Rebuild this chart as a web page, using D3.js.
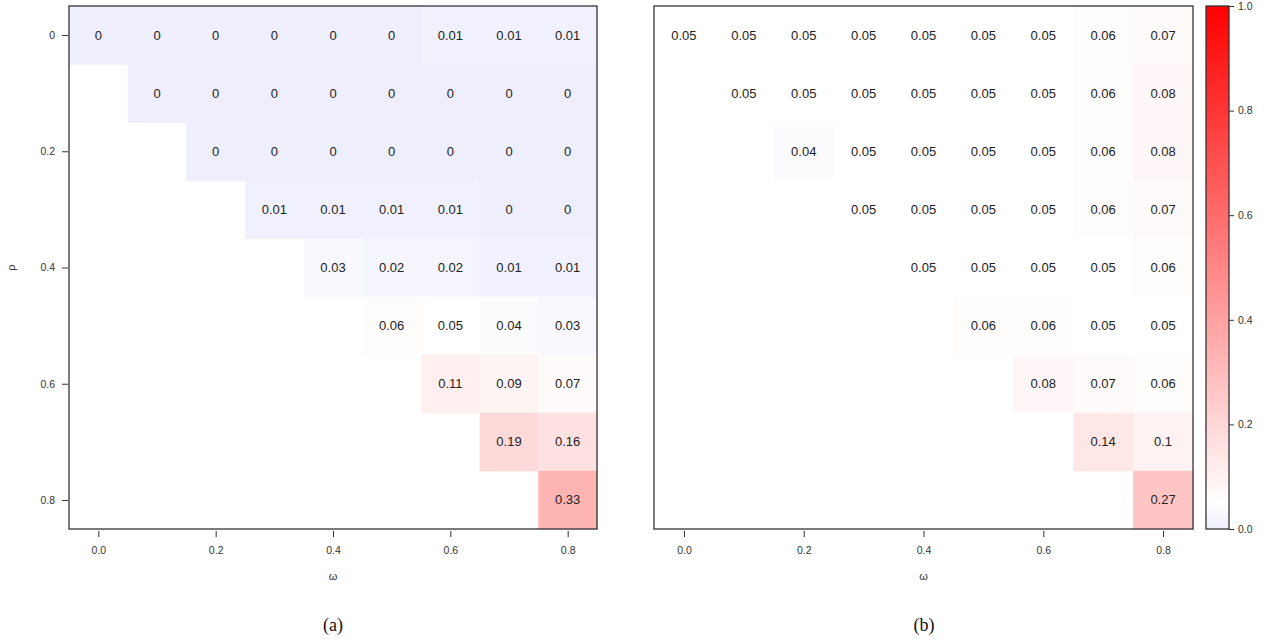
<!DOCTYPE html>
<html>
<head>
<meta charset="utf-8">
<script src="https://cdn.jsdelivr.net/npm/d3@7/dist/d3.min.js"></script>
<style>
  html, body { margin: 0; padding: 0; background: #fff; }
  svg { display: block; }
</style>
</head>
<body>
<svg id="chart" width="1271" height="643" font-family="'Liberation Sans', Arial, sans-serif"></svg>
<script>
// ---- data ----
const omegaValues = [0.0, 0.1, 0.2, 0.3, 0.4, 0.5, 0.6, 0.7, 0.8];
const rhoValues   = [0.0, 0.1, 0.2, 0.3, 0.4, 0.5, 0.6, 0.7, 0.8];
const xTickValues = [0.0, 0.2, 0.4, 0.6, 0.8];
const xTickLabels = ["0.0", "0.2", "0.4", "0.6", "0.8"];
const yTickValues = [0.0, 0.2, 0.4, 0.6, 0.8];
const yTickLabels = ["0", "0.2", "0.4", "0.6", "0.8"];
const colorTicks  = [0.0, 0.2, 0.4, 0.6, 0.8, 1.0];

// rows = rho, columns = omega (null = no cell)
const valuesA = [
  [0,    0,    0,    0,    0,    0,    0.01, 0.01, 0.01],
  [null, 0,    0,    0,    0,    0,    0,    0,    0   ],
  [null, null, 0,    0,    0,    0,    0,    0,    0   ],
  [null, null, null, 0.01, 0.01, 0.01, 0.01, 0,    0   ],
  [null, null, null, null, 0.03, 0.02, 0.02, 0.01, 0.01],
  [null, null, null, null, null, 0.06, 0.05, 0.04, 0.03],
  [null, null, null, null, null, null, 0.11, 0.09, 0.07],
  [null, null, null, null, null, null, null, 0.19, 0.16],
  [null, null, null, null, null, null, null, null, 0.33]
];
const valuesB = [
  [0.05, 0.05, 0.05, 0.05, 0.05, 0.05, 0.05, 0.06, 0.07],
  [null, 0.05, 0.05, 0.05, 0.05, 0.05, 0.05, 0.06, 0.08],
  [null, null, 0.04, 0.05, 0.05, 0.05, 0.05, 0.06, 0.08],
  [null, null, null, 0.05, 0.05, 0.05, 0.05, 0.06, 0.07],
  [null, null, null, null, 0.05, 0.05, 0.05, 0.05, 0.06],
  [null, null, null, null, null, 0.06, 0.06, 0.05, 0.05],
  [null, null, null, null, null, null, 0.08, 0.07, 0.06],
  [null, null, null, null, null, null, null, 0.14, 0.1 ],
  [null, null, null, null, null, null, null, null, 0.27]
];

const svg = d3.select("#chart");
const color = d3.scaleLinear().domain([0, 0.05, 1]).range(["#eeeefc", "#ffffff", "#ff0000"]);
const frameColor = "#333";
const sans = "'Liberation Sans', Arial, sans-serif";
const plotTop = 6, plotBottom = 529;

function fmt(v) { return String(+v.toFixed(2)); }

function panel(values, x0, x1, showY, caption, capX) {
  const g = svg.append("g");
  const x = d3.scaleBand().domain(omegaValues).range([x0, x1]).padding(0);
  const y = d3.scaleBand().domain(rhoValues).range([plotTop, plotBottom]).padding(0);
  const cells = [];
  values.forEach((row, i) => row.forEach((v, j) => {
    if (v !== null) cells.push({ rho: rhoValues[i], omega: omegaValues[j], v });
  }));
  g.selectAll("rect.cell").data(cells).join("rect")
    .attr("class", "cell")
    .attr("x", d => x(d.omega)).attr("y", d => y(d.rho))
    .attr("width", x.bandwidth() + 0.5).attr("height", y.bandwidth() + 0.5)
    .attr("fill", d => color(d.v));
  g.selectAll("text.val").data(cells).join("text")
    .attr("class", "val")
    .attr("x", d => x(d.omega) + x.bandwidth() / 2)
    .attr("y", d => y(d.rho) + y.bandwidth() / 2)
    .attr("text-anchor", "middle").attr("dominant-baseline", "central")
    .attr("font-size", 13).attr("fill", "#222")
    .text(d => fmt(d.v));
  g.append("rect").attr("x", x0).attr("y", plotTop)
    .attr("width", x1 - x0).attr("height", plotBottom - plotTop)
    .attr("fill", "none").attr("stroke", frameColor).attr("stroke-width", 1.3);

  // x axis
  const xPos = d => x(d) + x.bandwidth() / 2;
  const xa = g.append("g").attr("transform", `translate(0,${plotBottom + 2})`)
    .call(d3.axisBottom(d3.scaleLinear().domain([0, 0.8]).range([xPos(0.0), xPos(0.8)]))
      .tickValues(xTickValues).tickFormat((d, i) => xTickLabels[i]).tickSize(6).tickPadding(10))
    .attr("font-family", sans).attr("font-size", 10.5);
  xa.select(".domain").remove();
  xa.selectAll("line").attr("stroke", frameColor);
  xa.selectAll("text").attr("fill", "#333");
  g.append("text").attr("x", (xPos(0.4))).attr("y", 580)
    .attr("text-anchor", "middle").attr("font-size", 11).attr("fill", "#333").text("ω");

  if (showY) {
    const yPos = d => y(d) + y.bandwidth() / 2;
    const ya = g.append("g").attr("transform", `translate(${x0 - 1},0)`)
      .call(d3.axisLeft(d3.scaleLinear().domain([0, 0.8]).range([yPos(0.0), yPos(0.8)]))
        .tickValues(yTickValues).tickFormat((d, i) => yTickLabels[i]).tickSize(6).tickPadding(7))
      .attr("font-family", sans).attr("font-size", 10.5);
    ya.select(".domain").remove();
    ya.selectAll("line").attr("stroke", frameColor);
    ya.selectAll("text").attr("fill", "#333");
    g.append("text").attr("transform", `translate(15,${(plotTop + plotBottom) / 2}) rotate(-90)`)
      .attr("text-anchor", "middle").attr("font-size", 11).attr("fill", "#333").text("ρ");
  }
  g.append("text").attr("x", capX).attr("y", 631)
    .attr("text-anchor", "middle").attr("font-size", 18)
    .attr("font-family", "'Liberation Serif', 'DejaVu Serif', serif").attr("fill", "#111")
    .text(caption);
}

panel(valuesA, 69, 597, true, "(a)", 333);
panel(valuesB, 654, 1193, false, "(b)", 924);

// colour bar
const cbX = 1206, cbW = 23;
const cbScale = d3.scaleLinear().domain([0, 1]).range([plotBottom, plotTop]);
const defs = svg.append("defs");
const grad = defs.append("linearGradient").attr("id", "cbgrad")
  .attr("x1", 0).attr("y1", 1).attr("x2", 0).attr("y2", 0);
color.domain().forEach(v => grad.append("stop").attr("offset", v).attr("stop-color", color(v)));
svg.append("rect").attr("x", cbX).attr("y", plotTop).attr("width", cbW).attr("height", plotBottom - plotTop)
  .attr("fill", "url(#cbgrad)").attr("stroke", frameColor).attr("stroke-width", 1.3);
const ca = svg.append("g").attr("transform", `translate(${cbX + cbW},0)`)
  .call(d3.axisRight(cbScale).tickValues(colorTicks).tickFormat(d3.format(".1f")).tickSize(5).tickPadding(4))
  .attr("font-family", sans).attr("font-size", 10.5);
ca.select(".domain").remove();
ca.selectAll("line").attr("stroke", frameColor);
ca.selectAll("text").attr("fill", "#333");
</script>
</body>
</html>
